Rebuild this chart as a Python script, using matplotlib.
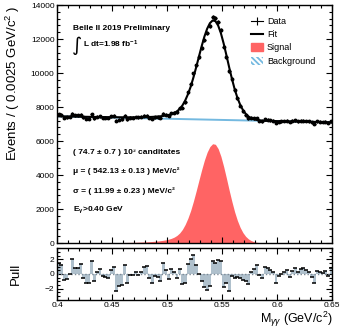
import numpy as np
import matplotlib
matplotlib.use('Agg')
import matplotlib.pyplot as plt
from matplotlib.lines import Line2D
from matplotlib.patches import Patch
from matplotlib.ticker import MultipleLocator

plt.rcParams['font.family'] = ['Liberation Sans', 'DejaVu Sans']
plt.rcParams['mathtext.fontset'] = 'custom'
plt.rcParams['mathtext.rm'] = 'Liberation Sans'
plt.rcParams['mathtext.it'] = 'Liberation Sans:italic'
plt.rcParams['mathtext.bf'] = 'Liberation Sans:bold'
plt.rcParams['hatch.linewidth'] = 1.3

# 100 bins of 2.5 MeV between 0.40 and 0.65 GeV
bin_lo = 0.40
bin_w = 0.0025
n_bins = 100

# total fit per bin (signal + background)
fit = [7454, 7451, 7448, 7445, 7441, 7439, 7435, 7433, 7429, 7427,
       7424, 7421, 7418, 7416, 7413, 7411, 7408, 7406, 7404, 7402,
       7400, 7399, 7397, 7396, 7395, 7395, 7394, 7395, 7395, 7397,
       7399, 7402, 7406, 7412, 7419, 7429, 7440, 7456, 7475, 7500,
       7533, 7580, 7646, 7743, 7884, 8091, 8377, 8744, 9189, 9733,
       10331, 10958, 11573, 12140, 12604, 12931, 13092, 13054, 12795, 12342,
       11738, 11055, 10341, 9668, 9054, 8546, 8137, 7828, 7603, 7449,
       7346, 7281, 7240, 7216, 7200, 7191, 7184, 7180, 7176, 7173,
       7168, 7165, 7161, 7158, 7154, 7151, 7147, 7144, 7140, 7137,
       7133, 7130, 7126, 7123, 7119, 7116, 7112, 7109, 7105, 7102]

# signal component per bin
signal = [6, 6, 7, 7, 7, 8, 8, 9, 9, 10,
          11, 11, 12, 13, 14, 15, 16, 17, 19, 20,
          22, 24, 26, 28, 31, 34, 37, 41, 45, 50,
          56, 62, 70, 79, 90, 103, 118, 137, 160, 188,
          225, 275, 345, 445, 590, 800, 1090, 1460, 1909, 2456,
          3058, 3688, 4307, 4877, 5345, 5675, 5840, 5805, 5550, 5100,
          4500, 3820, 3110, 2440, 1830, 1325, 920, 614, 393, 242,
          143, 81, 44, 23, 11, 5, 2, 1, 1, 1,
          0, 0, 0, 0, 0, 0, 0, 0, 0, 0,
          0, 0, 0, 0, 0, 0, 0, 0, 0, 0]

# pull per bin
pull = [1.5, 1.2, -0.8, -0.7, 0.0, 2.0, 0.8, 0.8, 1.3, -0.5,
        -1.2, -1.2, 1.7, -1.0, 0.2, 0.6, -0.3, -0.4, -0.6, 0.5,
        1.0, -2.3, -1.7, -1.5, 1.2, -1.2, -0.2, -0.2, 0.2, -0.1,
        0.2, 0.9, 1.1, -0.6, -1.2, -0.3, -0.4, -1.0, 1.5, 0.5,
        -0.7, 0.7, 0.3, -0.5, 0.6, -1.4, -1.2, 1.3, 2.0, 2.6,
        1.2, 0.0, -1.0, -1.8, -2.2, -1.6, 1.8, 1.5, 1.9, 1.8,
        -1.8, -1.2, -2.3, -0.3, -0.5, -0.4, -0.6, -0.8, -1.0, -1.4,
        0.3, 0.6, 1.2, -0.2, -0.5, 0.9, 0.8, 0.5, 0.2, -1.2,
        -0.3, 0.0, 0.2, 0.5, -0.4, 0.4, 0.8, 0.3, 0.7, 0.8,
        0.5, 0.3, -0.4, -1.3, 0.4, 0.2, 0.1, 0.4, -0.3, 0.8]

# linear background end points
bkg_x = [0.40, 0.65]
bkg_y = [7450, 7100]

x = bin_lo + bin_w * (np.arange(n_bins) + 0.5)
fit = np.array(fit, dtype=float)
err = np.sqrt(fit)
data = fit + np.array(pull) * err

fig = plt.figure(figsize=(3.43, 3.30), dpi=100)
ax = fig.add_axes([0.167, 0.2636, 0.8017, 0.7212])
axp = fig.add_axes([0.167, 0.092, 0.8017, 0.156], sharex=ax)

sig_col = '#ff6464'
bkg_col = '#74b9e0'

ax.fill_between(x, 0, signal, color=sig_col, lw=0)
ax.plot(bkg_x, bkg_y, color=bkg_col, lw=1.4)
ax.errorbar(x, data, yerr=err, xerr=bin_w / 2, fmt='o', ms=1.8, color='k',
            lw=1.0, capsize=0)
ax.plot(x, fit, color='k', lw=1.5)

ax.set_xlim(0.40, 0.65)
ax.set_ylim(0, 14000)
ax.set_ylabel('Events / ( 0.0025 GeV/c$^2$ )', fontsize=9.5, loc='top')
ax.yaxis.set_label_coords(-0.128, 1.0)

for a in (ax, axp):
    a.tick_params(which='both', direction='in', top=True, right=True,
                  labelsize=6, pad=2)
    a.tick_params(which='major', length=4.5, width=0.8)
    a.tick_params(which='minor', length=2.2, width=0.8)
    a.xaxis.set_major_locator(MultipleLocator(0.05))
    a.xaxis.set_minor_locator(MultipleLocator(0.01))
    for s in a.spines.values():
        s.set_linewidth(1.0)
ax.yaxis.set_major_locator(MultipleLocator(2000))
ax.yaxis.set_minor_locator(MultipleLocator(400))
ax.tick_params(labelbottom=False)

txt = dict(transform=ax.transAxes, fontsize=6, fontweight='bold', va='center')
ax.text(0.058, 0.90, 'Belle II 2019 Preliminary', **txt)
ax.text(0.053, 0.828, '\u222b', transform=ax.transAxes, fontsize=14,
        va='center', family='DejaVu Sans')
ax.text(0.094, 0.835, 'L dt=1.98 fb$^{\\mathbf{-1}}$', **txt)

ax.text(0.058, 0.382, '( 74.7 \u00b1 0.7 ) 10\u00b3 canditates', **txt)
ax.text(0.058, 0.300, '\u03bc = ( 542.13 \u00b1 0.13 ) MeV/c\u00b2', **txt)
ax.text(0.058, 0.218, '\u03c3 = ( 11.99 \u00b1 0.23 ) MeV/c\u00b2', **txt)
ax.text(0.058, 0.139, 'E$_{\\mathbf{\u03b3}}$>0.40 GeV', **txt)

handles = [
    Line2D([], [], color='k', marker='|', ms=6, mew=0.8, lw=0.8),
    Line2D([], [], color='k', lw=1.5),
    Patch(facecolor=sig_col, edgecolor=sig_col),
    Patch(facecolor='white', edgecolor=bkg_col, hatch='\\\\\\\\\\\\', lw=0),
]
ax.legend(handles, ['Data', 'Fit', 'Signal', 'Background'],
          loc='upper left', bbox_to_anchor=(0.69, 0.965), frameon=False,
          fontsize=6.5, handlelength=1.4, handleheight=1.0,
          labelspacing=0.45, handletextpad=0.4, borderaxespad=0)

axp.bar(x, pull, width=bin_w, color='#afc0cc', lw=0)
axp.axhline(0, color='#7d8a96', lw=1.0, ls=(0, (1, 1.5)))
axp.plot(x, pull, ls='none', marker='_', ms=3, mew=1.1, color='k')
axp.set_ylim(-3.5, 3.5)
axp.yaxis.set_major_locator(MultipleLocator(2))
axp.yaxis.set_minor_locator(MultipleLocator(0.5))
axp.set_xlim(0.40, 0.65)
axp.set_ylabel('Pull', fontsize=9.5)
axp.yaxis.set_label_coords(-0.128, 0.5)
axp.set_xlabel('M$_{\\gamma\\gamma}$ (GeV/c$^2$)', fontsize=9, loc='right')
axp.xaxis.set_label_coords(1.0, -0.19)
axp.set_xticks([0.4, 0.45, 0.5, 0.55, 0.6, 0.65])
axp.set_xticklabels(['0.4', '0.45', '0.5', '0.55', '0.6', '0.65'])

fig.savefig('out.png', dpi=100)
